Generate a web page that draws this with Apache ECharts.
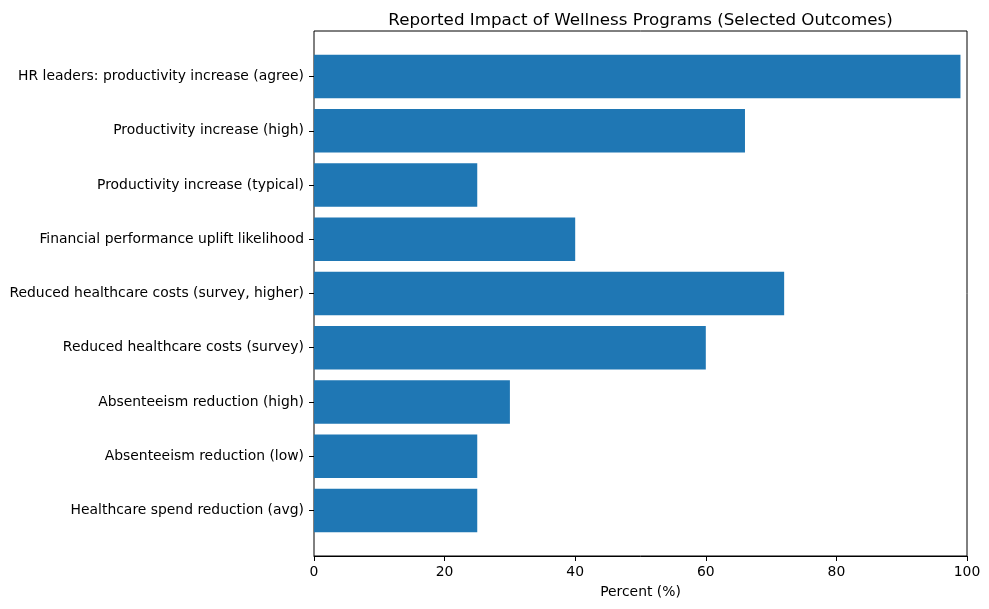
<!DOCTYPE html>
<html>
<head>
<meta charset="utf-8">
<script src="https://cdn.jsdelivr.net/npm/echarts@6/dist/echarts.min.js"></script>
<style>html,body{margin:0;padding:0;background:#fff}#c{width:989px;height:609px}</style>
</head>
<body>
<div id="c"></div>
<script>
var categories = [
  "Healthcare spend reduction (avg)",
  "Absenteeism reduction (low)",
  "Absenteeism reduction (high)",
  "Reduced healthcare costs (survey)",
  "Reduced healthcare costs (survey, higher)",
  "Financial performance uplift likelihood",
  "Productivity increase (typical)",
  "Productivity increase (high)",
  "HR leaders: productivity increase (agree)"
];
var values = [25, 25, 30, 60, 72, 40, 25, 66, 99];
var xTicks = [0, 20, 40, 60, 80, 100];

var FONT = "DejaVu Sans";
var chart = echarts.init(document.getElementById('c'), null, {renderer: 'canvas'});
var L = 314, R = 22, T = 31, B = 53;
var unit = (609 - T - B) / 9.68;
var innerTop = T + 0.34 * unit;
var innerH = 9 * unit;

chart.setOption({
  animation: false,
  title: {
    text: "Reported Impact of Wellness Programs (Selected Outcomes)",
    left: (L + 989 - R) / 2 - 5, top: 7, textAlign: 'center',
    textStyle: {fontFamily: FONT, fontSize: 16.7, fontWeight: 'normal', color: '#000'}
  },
  grid: [
    {left: L, right: R, top: T, bottom: B, show: true, borderColor: '#000', borderWidth: 1, backgroundColor: 'transparent'},
    {left: L, right: R, top: innerTop, height: innerH}
  ],
  xAxis: [
    {gridIndex: 0, type: 'value', min: 0, max: 100, interval: 20,
     name: 'Percent (%)', nameLocation: 'middle', nameGap: 29,
     nameTextStyle: {fontFamily: FONT, fontSize: 13.9, color: '#000'},
     axisLine: {show: true, lineStyle: {color: '#000', width: 1}},
     axisTick: {show: true, inside: false, length: 5, lineStyle: {color: '#000'}},
     axisLabel: {fontFamily: FONT, fontSize: 13.9, color: '#000', margin: 9,
       formatter: function(v){ return xTicks.indexOf(v) >= 0 ? String(v) : ''; }},
     splitLine: {show: false}},
    {gridIndex: 1, type: 'value', min: 0, max: 100, show: false}
  ],
  yAxis: [
    {gridIndex: 0, type: 'value', min: 0, max: 1, show: false},
    {gridIndex: 1, type: 'category', data: categories,
     axisLine: {show: false},
     axisTick: {show: true, alignWithLabel: true, length: 5, lineStyle: {color: '#000'}},
     axisLabel: {fontFamily: FONT, fontSize: 13.9, color: '#000', margin: 10},
     splitLine: {show: false}}
  ],
  series: [{
    type: 'bar', xAxisIndex: 1, yAxisIndex: 1,
    data: values, barWidth: '80%',
    itemStyle: {color: '#1f77b4'}
  }]
});
</script>
</body>
</html>
